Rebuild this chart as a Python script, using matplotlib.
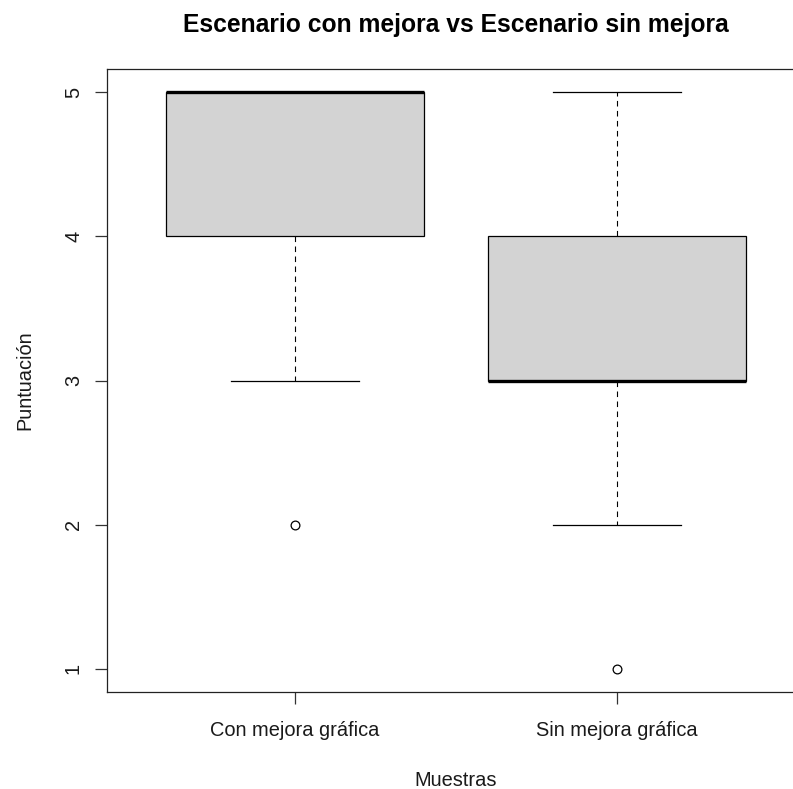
import matplotlib
matplotlib.use("Agg")
import matplotlib.pyplot as plt
from matplotlib import transforms

# Summary statistics for each sample (scores on a 1-5 scale)
categories = ["Con mejora gráfica", "Sin mejora gráfica"]
q1 = [4, 3]
medians = [5, 3]
q3 = [5, 4]
whisker_low = [3, 2]
whisker_high = [5, 5]
outliers = [[2], [1]]
y_ticks = [1, 2, 3, 4, 5]

plt.rcParams["font.family"] = ["Liberation Sans", "DejaVu Sans"]

W, H, DPI = 793, 789, 100
fig = plt.figure(figsize=(W / DPI, H / DPI), dpi=DPI)

left_px, right_px, top_px, bottom_px = 107, 805, 69, 692
ax = fig.add_axes([left_px / W, 1 - bottom_px / H,
                   (right_px - left_px) / W, (bottom_px - top_px) / H])

stats = []
for i, name in enumerate(categories):
    stats.append(dict(label=name, med=medians[i], q1=q1[i], q3=q3[i],
                      whislo=whisker_low[i], whishi=whisker_high[i],
                      fliers=outliers[i]))

positions = list(range(1, len(categories) + 1))
ax.bxp(stats, positions=positions, widths=0.8, capwidths=0.4,
       patch_artist=True, showfliers=True,
       boxprops=dict(facecolor="#D3D3D3", edgecolor="black", linewidth=0.9),
       medianprops=dict(color="black", linewidth=2.4, solid_capstyle="butt"),
       whiskerprops=dict(color="black", linewidth=0.8, linestyle=(0, (5.0, 4.0))),
       capprops=dict(color="black", linewidth=0.9),
       flierprops=dict(marker="o", markersize=6.3, markerfacecolor="none",
                       markeredgecolor="black", markeredgewidth=0.9))

ax.set_xlim(0.416, 2.584)
ax.set_ylim(0.84, 5.16)
ax.set_yticks(y_ticks)
ax.set_xticks(positions)

for s in ax.spines.values():
    s.set_color("#222222")
    s.set_linewidth(0.9)
ax.tick_params(axis="both", length=8.6, width=0.9, color="#333333",
               labelleft=False, labelbottom=False)

label_kw = dict(fontsize=14.4, color="#1a1a1a")

# Tick labels: y in data units, x/y offsets in figure pixels
ytrans = transforms.blended_transform_factory(fig.transFigure, ax.transData)
for v in y_ticks:
    fig.text(79 / W, v, str(v), transform=ytrans, rotation=90,
             rotation_mode="anchor", ha="center", va="baseline", **label_kw)

xtrans = transforms.blended_transform_factory(ax.transData, fig.transFigure)
for p, name in zip(positions, categories):
    fig.text(p, 1 - 736 / H, name, transform=xtrans, ha="center",
             va="baseline", **label_kw)

fig.text(456 / W, 1 - 786 / H, "Muestras", ha="center", va="baseline",
         **label_kw)
fig.text(30 / W, 1 - 380 / H, "Puntuación", ha="center", va="baseline",
         rotation=90, rotation_mode="anchor", **label_kw)
fig.text(456 / W, 1 - 32 / H, "Escenario con mejora vs Escenario sin mejora",
         ha="center", va="baseline", fontsize=17.7, fontweight="bold",
         color="black")

fig.savefig("out.png", dpi=DPI)
